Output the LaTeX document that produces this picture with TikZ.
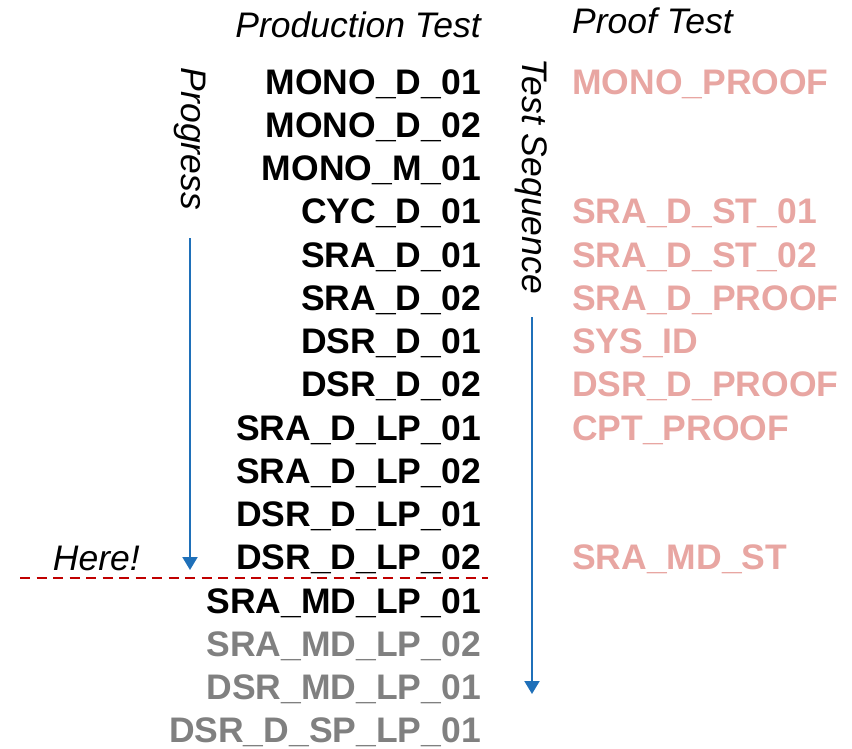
\documentclass[tikz,border=0pt]{standalone}
\usepackage{fontspec}
\setmainfont{Liberation Sans}
\usetikzlibrary{positioning,arrows.meta}

\definecolor{proofpink}{RGB}{232,166,162}
\definecolor{futuregray}{RGB}{128,128,128}
\definecolor{seqblue}{RGB}{31,112,185}
\definecolor{cutred}{RGB}{192,0,0}

\tikzstyle{prod} = [
anchor=base east,
inner sep=0pt,
font=\bfseries\fontsize{35.5}{40}\selectfont,
text=black
]
\tikzstyle{todo} = [
prod,
text=futuregray
]
\tikzstyle{proof} = [
anchor=base west,
inner sep=0pt,
font=\bfseries\fontsize{35.5}{40}\selectfont,
text=proofpink
]
\tikzstyle{title} = [
inner sep=0pt,
font=\itshape\fontsize{35.5}{40}\selectfont
]
\tikzstyle{arrow} = [
line width=2pt,
draw=seqblue,
-{Triangle[width=15pt,length=13pt]}
]
\tikzstyle{cutline} = [
line width=2.3pt,
draw=cutred,
dash pattern=on 10pt off 6.5pt
]

\begin{document}
\begin{tikzpicture}[
x=1pt,
y=1pt
]
\useasboundingbox (0,0) rectangle (852,-748);

% Headers
\node (prodtitle) [title, anchor=base east] at (481,-37)
{Production Test};
\node (prooftitle) [title, anchor=base west] at (572,-33)
{Proof Test};

% Production tests
\node (monod1) [prod] at (481,-94)
{MONO\_D\_01};
\node (monod2) [below=43.25pt of monod1.base east, prod]
{MONO\_D\_02};
\node (monom1) [below=43.25pt of monod2.base east, prod]
{MONO\_M\_01};
\node (cycd1) [below=43.25pt of monom1.base east, prod]
{CYC\_D\_01};
\node (srad1) [below=43.25pt of cycd1.base east, prod]
{SRA\_D\_01};
\node (srad2) [below=43.25pt of srad1.base east, prod]
{SRA\_D\_02};
\node (dsrd1) [below=43.25pt of srad2.base east, prod]
{DSR\_D\_01};
\node (dsrd2) [below=43.25pt of dsrd1.base east, prod]
{DSR\_D\_02};
\node (sralp1) [below=43.25pt of dsrd2.base east, prod]
{SRA\_D\_LP\_01};
\node (sralp2) [below=43.25pt of sralp1.base east, prod]
{SRA\_D\_LP\_02};
\node (dsrlp1) [below=43.25pt of sralp2.base east, prod]
{DSR\_D\_LP\_01};
\node (dsrlp2) [below=43.25pt of dsrlp1.base east, prod]
{DSR\_D\_LP\_02};
\node (sramd1) [below=43.25pt of dsrlp2.base east, prod]
{SRA\_MD\_LP\_01};
\node (sramd2) [below=43.25pt of sramd1.base east, todo]
{SRA\_MD\_LP\_02};
\node (dsrmd1) [below=43.25pt of sramd2.base east, todo]
{DSR\_MD\_LP\_01};
\node (dsrsp1) [below=43.25pt of dsrmd1.base east, todo]
{DSR\_D\_SP\_LP\_01};

% Proof tests
\node (monoproof) [right=91pt of monod1.base east, proof]
{MONO\_PROOF};
\node (srast1) [right=91pt of cycd1.base east, proof]
{SRA\_D\_ST\_01};
\node (srast2) [right=91pt of srad1.base east, proof]
{SRA\_D\_ST\_02};
\node (sraproof) [right=91pt of srad2.base east, proof]
{SRA\_D\_PROOF};
\node (sysid) [right=91pt of dsrd1.base east, proof]
{SYS\_ID};
\node (dsrproof) [right=91pt of dsrd2.base east, proof]
{DSR\_D\_PROOF};
\node (cptproof) [right=91pt of sralp1.base east, proof]
{CPT\_PROOF};
\node (sramdst) [right=91pt of dsrlp2.base east, proof]
{SRA\_MD\_ST};

% Side labels
\node (progress) [title, rotate=-90] at (190,-139)
{Progress};
\node (sequence) [title, rotate=-90] at (531,-176)
{Test Sequence};
\node (here) [title, anchor=base east] at (140,-570)
{Here!};

% Arrows
\coordinate (progstart) at (190,-238);
\coordinate (progend) at (190,-570);
\coordinate (seqstart) at (532,-317);
\coordinate (seqend) at (532,-694);
\coordinate (cutstart) at (20,-578);
\coordinate (cutend) at (488,-578);

\draw [arrow] (progstart) -- (progend);
\draw [arrow] (seqstart) -- (seqend);
\draw [cutline] (cutstart) -- (cutend);

\end{tikzpicture}
\end{document}
